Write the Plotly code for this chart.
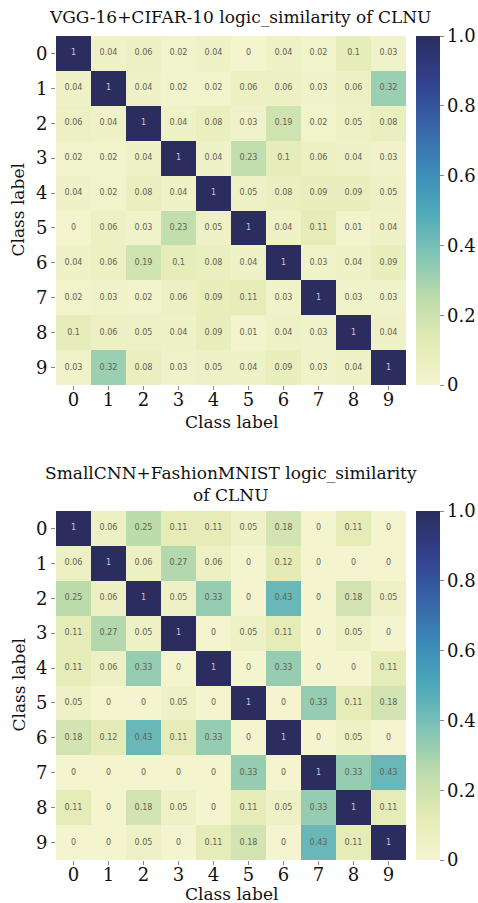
import plotly.graph_objects as go

# Class indices shared by both matrices
classes = list(range(10))
tick_labels = [str(c) for c in classes]

# Pairwise logic similarity of CLNU, VGG-16 trained on CIFAR-10
vgg_cifar = [
    [1, 0.04, 0.06, 0.02, 0.04, 0, 0.04, 0.02, 0.1, 0.03],
    [0.04, 1, 0.04, 0.02, 0.02, 0.06, 0.06, 0.03, 0.06, 0.32],
    [0.06, 0.04, 1, 0.04, 0.08, 0.03, 0.19, 0.02, 0.05, 0.08],
    [0.02, 0.02, 0.04, 1, 0.04, 0.23, 0.1, 0.06, 0.04, 0.03],
    [0.04, 0.02, 0.08, 0.04, 1, 0.05, 0.08, 0.09, 0.09, 0.05],
    [0, 0.06, 0.03, 0.23, 0.05, 1, 0.04, 0.11, 0.01, 0.04],
    [0.04, 0.06, 0.19, 0.1, 0.08, 0.04, 1, 0.03, 0.04, 0.09],
    [0.02, 0.03, 0.02, 0.06, 0.09, 0.11, 0.03, 1, 0.03, 0.03],
    [0.1, 0.06, 0.05, 0.04, 0.09, 0.01, 0.04, 0.03, 1, 0.04],
    [0.03, 0.32, 0.08, 0.03, 0.05, 0.04, 0.09, 0.03, 0.04, 1],
]

# Pairwise logic similarity of CLNU, SmallCNN trained on FashionMNIST
smallcnn_fmnist = [
    [1, 0.06, 0.25, 0.11, 0.11, 0.05, 0.18, 0, 0.11, 0],
    [0.06, 1, 0.06, 0.27, 0.06, 0, 0.12, 0, 0, 0],
    [0.25, 0.06, 1, 0.05, 0.33, 0, 0.43, 0, 0.18, 0.05],
    [0.11, 0.27, 0.05, 1, 0, 0.05, 0.11, 0, 0.05, 0],
    [0.11, 0.06, 0.33, 0, 1, 0, 0.33, 0, 0, 0.11],
    [0.05, 0, 0, 0.05, 0, 1, 0, 0.33, 0.11, 0.18],
    [0.18, 0.12, 0.43, 0.11, 0.33, 0, 1, 0, 0.05, 0],
    [0, 0, 0, 0, 0, 0.33, 0, 1, 0.33, 0.43],
    [0.11, 0, 0.18, 0.05, 0, 0.11, 0.05, 0.33, 1, 0.11],
    [0, 0, 0.05, 0, 0.11, 0.18, 0, 0.43, 0.11, 1],
]

titles = [
    "VGG-16+CIFAR-10 logic_similarity of CLNU",
    "SmallCNN+FashionMNIST logic_similarity<br>of CLNU",
]
axis_title = "Class label"
cbar_ticks = [0, 0.2, 0.4, 0.6, 0.8, 1.0]
cbar_ticktext = ["0", "0.2", "0.4", "0.6", "0.8", "1.0"]

# Softened yellow-green-blue ramp
colorscale = [
    [0.0, "#f4f5cf"],
    [0.125, "#e3ebb5"],
    [0.25, "#bddcab"],
    [0.375, "#80c4b5"],
    [0.5, "#4ca8ba"],
    [0.625, "#3c88b8"],
    [0.75, "#3763a5"],
    [0.875, "#32408b"],
    [1.0, "#2b2d5e"],
]

FONT = "DejaVu Serif"
W, H = 478, 903

# Pixel geometry of the two panels
left_px, right_px = 56, 406
tops_px = [36, 511]
side_px = 349

x_dom = [left_px / W, right_px / W]
y_doms = [[(H - t - side_px) / H, (H - t) / H] for t in tops_px]

fig = go.Figure()

for i, mat in enumerate([vgg_cifar, smallcnn_fmnist]):
    xa = "x" if i == 0 else "x2"
    ya = "y" if i == 0 else "y2"
    top_px = tops_px[i]
    fig.add_trace(go.Heatmap(
        z=mat, x=classes, y=classes,
        colorscale=colorscale, zmin=0, zmax=1,
        xaxis=xa, yaxis=ya,
        colorbar=dict(
            thickness=24, len=side_px, lenmode="pixels",
            x=416 / W, xanchor="left", xpad=0,
            y=(H - top_px) / H, yanchor="top", ypad=0,
            outlinewidth=0,
            tickvals=cbar_ticks, ticktext=cbar_ticktext,
            ticks="outside", ticklen=4, tickcolor="#888",
            tickfont=dict(family=FONT, size=18, color="#111"),
        ),
        hoverinfo="skip",
    ))
    # Value labels in each cell
    xs, ys, txt, cols = [], [], [], []
    for r in classes:
        for c in classes:
            v = mat[r][c]
            xs.append(c)
            ys.append(r)
            txt.append(f"{v:g}")
            cols.append("#c8c8d8" if v > 0.6 else "#626256")
    fig.add_trace(go.Scatter(
        x=xs, y=ys, text=txt, mode="text",
        textfont=dict(family="DejaVu Sans", size=8, color=cols),
        xaxis=xa, yaxis=ya, showlegend=False, hoverinfo="skip",
    ))

axis_common = dict(
    tickmode="array", tickvals=classes, ticktext=tick_labels,
    ticks="outside", ticklen=4, tickcolor="#888",
    tickfont=dict(family=FONT, size=18, color="#111"),
    showgrid=False, zeroline=False, showline=False,
)

fig.update_layout(
    width=W, height=H,
    margin=dict(l=0, r=0, t=0, b=0),
    paper_bgcolor="white", plot_bgcolor="white",
    showlegend=False,
    xaxis=dict(domain=x_dom, anchor="y", range=[-0.5, 9.5],
               ticklabelstandoff=-6, **axis_common),
    yaxis=dict(domain=y_doms[0], anchor="x", range=[9.5, -0.5], **axis_common),
    xaxis2=dict(domain=x_dom, anchor="y2", range=[-0.5, 9.5],
                ticklabelstandoff=-6, **axis_common),
    yaxis2=dict(domain=y_doms[1], anchor="x2", range=[9.5, -0.5], **axis_common),
)

label_font = dict(family=FONT, size=17, color="#111")
cx = (left_px + right_px) / 2 / W

# Panel titles
fig.add_annotation(text=titles[0], x=240 / W, y=(H - 17) / H,
                   xref="paper", yref="paper", xanchor="center", yanchor="middle",
                   showarrow=False, font=label_font)
fig.add_annotation(text=titles[1], x=cx, y=(H - 484) / H,
                   xref="paper", yref="paper", xanchor="center", yanchor="middle",
                   showarrow=False, font=label_font)

# Axis titles for each panel
for t, gap in zip(tops_px, [37, 34]):
    fig.add_annotation(text=axis_title, x=cx, y=(H - (t + side_px + gap)) / H,
                       xref="paper", yref="paper", xanchor="center", yanchor="middle",
                       showarrow=False, font=label_font)
    fig.add_annotation(text=axis_title, x=18 / W, y=(H - (t + side_px / 2)) / H,
                       xref="paper", yref="paper", xanchor="center", yanchor="middle",
                       textangle=-90, showarrow=False, font=label_font)

fig.write_html("out.html")
